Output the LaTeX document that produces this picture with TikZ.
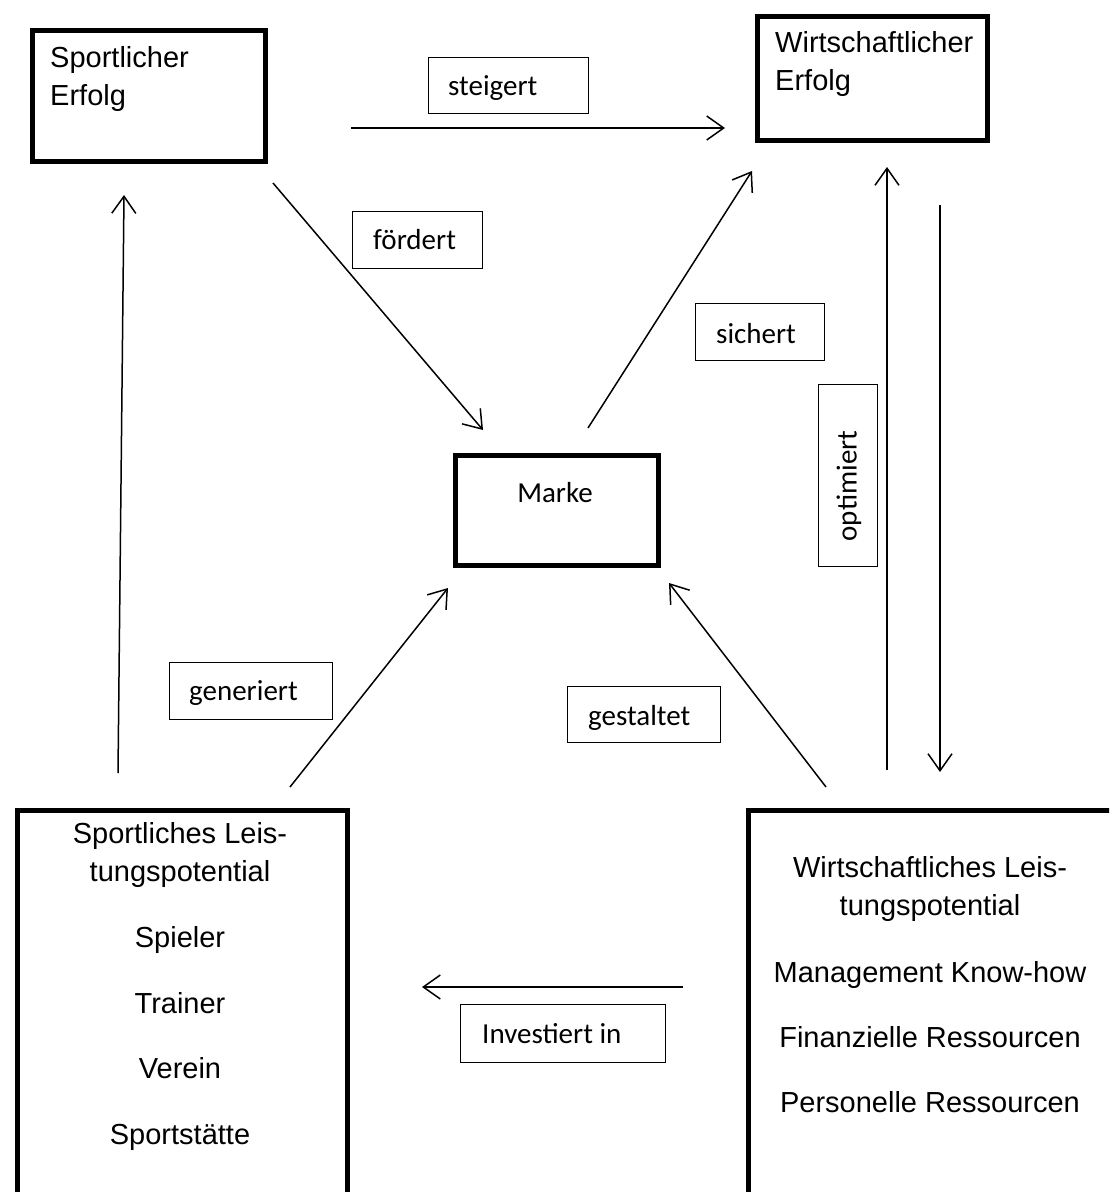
\documentclass[tikz,border=0pt]{standalone}
\usepackage{fontspec}
\setmainfont{Liberation Sans}
\newfontfamily\tagfont{Carlito}
\usetikzlibrary{arrows.meta}
\begin{document}
\begin{tikzpicture}[x=1pt,y=-1pt,
  bigbox/.style={draw, line width=5pt, inner sep=0pt, anchor=north west},
  tagbox/.style={draw, line width=1.3pt, inner sep=0pt, anchor=north west},
  boxtext/.style={font=\fontsize{29}{35}\selectfont, inner sep=0pt},
  tagtext/.style={font=\tagfont\fontsize{29}{35}\selectfont, inner sep=0pt, anchor=base west},
  link/.style={line width=1.5pt, -{Straight Barb[length=17pt,width=24pt]}}]
\useasboundingbox (0,0) rectangle (1109,1192);
\clip (0,0) rectangle (1109,1192);

% main boxes
\node[bigbox, minimum width=233pt, minimum height=131pt] (se) at (29.5,27.5) {};
\node[boxtext, anchor=base west] (se1) at (50,67) {Sportlicher};
\node[boxtext, anchor=base west] (se2) at (50,105) {Erfolg};

\node[bigbox, minimum width=230pt, minimum height=124pt] (we) at (754.5,14) {};
\node[boxtext, anchor=base west] (we1) at (775,52) {Wirtschaftlicher};
\node[boxtext, anchor=base west] (we2) at (775,90) {Erfolg};

\node[bigbox, minimum width=203pt, minimum height=110pt] (mk) at (452.5,452.5) {};
\node[tagtext, anchor=base] (mkt) at (555,502) {Marke};

\node[bigbox, minimum width=330pt, minimum height=420pt] (sl) at (14.5,807.5) {};
\node[boxtext, anchor=base] (sl1) at (180,843) {Sportliches Leis-};
\node[boxtext, anchor=base] (sl2) at (180,881) {tungspotential};
\node[boxtext, anchor=base] (sl3) at (180,947) {Spieler};
\node[boxtext, anchor=base] (sl4) at (180,1013) {Trainer};
\node[boxtext, anchor=base] (sl5) at (180,1078) {Verein};
\node[boxtext, anchor=base] (sl6) at (180,1144) {Sportstätte};

\node[bigbox, minimum width=420pt, minimum height=420pt] (wl) at (745.5,807.5) {};
\node[boxtext, anchor=base] (wl1) at (930,877) {Wirtschaftliches Leis-};
\node[boxtext, anchor=base] (wl2) at (930,915) {tungspotential};
\node[boxtext, anchor=base] (wl3) at (930,982) {Management Know-how};
\node[boxtext, anchor=base] (wl4) at (930,1047) {Finanzielle Ressourcen};
\node[boxtext, anchor=base] (wl5) at (930,1112) {Personelle Ressourcen};

% label boxes
\node[tagbox, minimum width=160pt, minimum height=56pt] (t1) at (428,57) {};
\node[tagtext] (t1t) at (448,95) {steigert};
\node[tagbox, minimum width=130pt, minimum height=57pt] (t2) at (352,211) {};
\node[tagtext] (t2t) at (373,249) {fördert};
\node[tagbox, minimum width=129pt, minimum height=57pt] (t3) at (695,303) {};
\node[tagtext] (t3t) at (716,343) {sichert};
\node[tagbox, minimum width=59pt, minimum height=182pt] (t4) at (818,384) {};
\node[tagtext, anchor=center, rotate=90] (t4t) at (849,486) {optimiert};
\node[tagbox, minimum width=163pt, minimum height=57pt] (t5) at (169,662) {};
\node[tagtext] (t5t) at (189,700) {generiert};
\node[tagbox, minimum width=153pt, minimum height=56pt] (t6) at (567,686) {};
\node[tagtext] (t6t) at (588,725) {gestaltet};
\node[tagbox, minimum width=205pt, minimum height=58pt] (t7) at (460,1004) {};
\node[tagtext] (t7t) at (482,1043) {Investiert in};

% connector end points
\coordinate (a1s) at (351,128);  \coordinate (a1e) at (725,128);
\coordinate (a2s) at (273,183);  \coordinate (a2e) at (483,430);
\coordinate (a3s) at (588,428);  \coordinate (a3e) at (752,171);
\coordinate (a4s) at (118,773);  \coordinate (a4e) at (124,195);
\coordinate (a5s) at (290,787);  \coordinate (a5e) at (448,588);
\coordinate (a6s) at (826,787);  \coordinate (a6e) at (669,583);
\coordinate (a7s) at (887,770);  \coordinate (a7e) at (887,167);
\coordinate (a8s) at (940,205);  \coordinate (a8e) at (940,772);
\coordinate (a9s) at (683,987);  \coordinate (a9e) at (422,987);

\draw[link] (a1s) -- (a1e);
\draw[link] (a2s) -- (a2e);
\draw[link] (a3s) -- (a3e);
\draw[link] (a4s) -- (a4e);
\draw[link] (a5s) -- (a5e);
\draw[link] (a6s) -- (a6e);
\draw[link] (a7s) -- (a7e);
\draw[link] (a8s) -- (a8e);
\draw[link] (a9s) -- (a9e);
\end{tikzpicture}
\end{document}
